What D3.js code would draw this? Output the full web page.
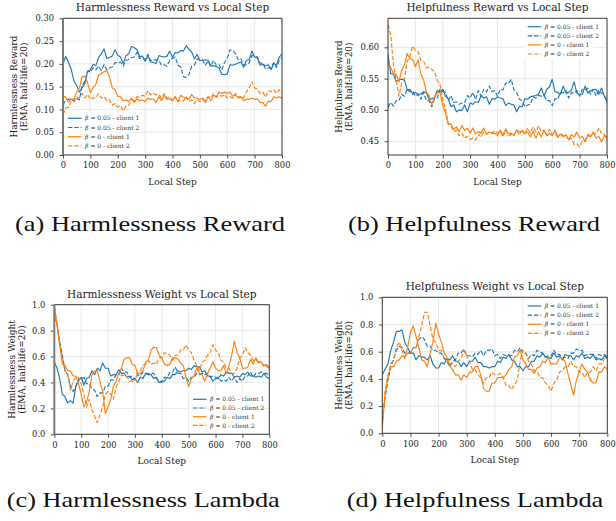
<!DOCTYPE html>
<html>
<head>
<meta charset="utf-8">
<script src="https://cdn.jsdelivr.net/npm/d3@7"></script>
<style>
  body { margin: 0; background: #fff; }
  svg { display: block; }
</style>
</head>
<body>
<svg id="fig" width="616" height="521"></svg>
<script>
// x positions of every sample (local step)
const steps = d3.range(0, 801, 10);
const xTicks = [0, 100, 200, 300, 400, 500, 600, 700, 800];

const seriesLabels = ["0.05 - client 1", "0.05 - client 2", "0 - client 1", "0 - client 2"];

// (a) harmlessness reward
const harmRewardB1 = [0.200,0.216,0.203,0.188,0.162,0.153,0.138,0.148,0.157,0.184,
  0.187,0.199,0.196,0.214,0.222,0.233,0.212,0.214,0.217,0.231,
  0.219,0.215,0.201,0.218,0.222,0.238,0.236,0.231,0.216,0.217,
  0.206,0.218,0.204,0.203,0.201,0.218,0.216,0.215,0.217,0.228,
  0.214,0.225,0.224,0.229,0.228,0.240,0.232,0.226,0.211,0.221,
  0.207,0.208,0.209,0.208,0.195,0.196,0.194,0.191,0.177,0.176,
  0.178,0.198,0.197,0.199,0.202,0.204,0.192,0.208,0.209,0.228,
  0.215,0.213,0.197,0.199,0.196,0.198,0.187,0.201,0.197,0.215,0.222];
const harmRewardB2 = [0.110,0.121,0.122,0.124,0.118,0.124,0.121,0.153,0.162,0.184,
  0.182,0.191,0.187,0.195,0.185,0.198,0.187,0.191,0.193,0.203,
  0.202,0.204,0.195,0.208,0.209,0.214,0.215,0.225,0.212,0.213,
  0.209,0.221,0.207,0.208,0.209,0.208,0.197,0.198,0.195,0.208,
  0.212,0.215,0.197,0.193,0.172,0.170,0.177,0.195,0.197,0.211,
  0.209,0.208,0.197,0.206,0.195,0.208,0.197,0.198,0.187,0.203,
  0.212,0.231,0.229,0.223,0.209,0.211,0.197,0.198,0.202,0.218,
  0.217,0.215,0.202,0.201,0.189,0.191,0.192,0.203,0.192,0.208,0.213];
const harmRewardO1 = [0.130,0.127,0.116,0.123,0.122,0.138,0.147,0.172,0.173,0.158,
  0.137,0.148,0.155,0.175,0.179,0.183,0.185,0.171,0.147,0.143,
  0.129,0.128,0.119,0.121,0.117,0.125,0.115,0.123,0.119,0.121,
  0.117,0.125,0.122,0.123,0.115,0.128,0.119,0.131,0.122,0.123,
  0.119,0.128,0.117,0.131,0.127,0.125,0.122,0.133,0.125,0.125,
  0.122,0.125,0.115,0.128,0.119,0.131,0.127,0.138,0.135,0.138,
  0.135,0.138,0.129,0.131,0.127,0.128,0.119,0.123,0.122,0.125,
  0.122,0.123,0.115,0.115,0.107,0.118,0.117,0.128,0.125,0.128,0.124];
const harmRewardO2 = [0.088,0.103,0.105,0.118,0.117,0.128,0.125,0.135,0.125,0.133,
  0.122,0.125,0.125,0.135,0.125,0.128,0.119,0.121,0.109,0.113,
  0.105,0.108,0.097,0.108,0.109,0.121,0.119,0.128,0.127,0.131,
  0.129,0.141,0.132,0.135,0.132,0.133,0.125,0.135,0.125,0.128,
  0.119,0.128,0.117,0.121,0.119,0.128,0.117,0.121,0.112,0.121,
  0.117,0.121,0.119,0.128,0.125,0.135,0.127,0.131,0.129,0.133,
  0.125,0.128,0.125,0.135,0.125,0.128,0.125,0.138,0.147,0.161,
  0.147,0.145,0.135,0.138,0.127,0.141,0.139,0.143,0.135,0.143,0.137];

// (b) helpfulness reward
const helpRewardB1 = [0.588,0.558,0.557,0.545,0.548,0.549,0.548,0.532,0.533,0.525,
  0.528,0.525,0.525,0.529,0.528,0.517,0.518,0.519,0.531,0.529,
  0.533,0.522,0.518,0.505,0.508,0.497,0.500,0.499,0.508,0.497,
  0.511,0.509,0.513,0.512,0.523,0.519,0.521,0.509,0.518,0.517,
  0.521,0.519,0.518,0.507,0.511,0.509,0.508,0.497,0.506,0.505,
  0.518,0.517,0.521,0.522,0.523,0.525,0.535,0.522,0.533,0.537,
  0.549,0.529,0.528,0.525,0.538,0.527,0.528,0.532,0.545,0.527,
  0.525,0.525,0.538,0.527,0.531,0.532,0.533,0.525,0.535,0.522,0.514];
const helpRewardB2 = [0.505,0.512,0.506,0.515,0.515,0.525,0.522,0.533,0.529,0.531,
  0.522,0.525,0.517,0.528,0.515,0.515,0.505,0.518,0.519,0.533,
  0.529,0.528,0.515,0.523,0.512,0.513,0.509,0.511,0.512,0.523,
  0.519,0.528,0.517,0.531,0.522,0.533,0.529,0.538,0.529,0.531,
  0.522,0.533,0.532,0.543,0.542,0.549,0.532,0.528,0.517,0.515,
  0.505,0.508,0.509,0.521,0.519,0.523,0.522,0.523,0.515,0.515,
  0.507,0.518,0.517,0.528,0.527,0.531,0.519,0.528,0.527,0.531,
  0.522,0.533,0.532,0.535,0.525,0.533,0.522,0.531,0.527,0.525,0.511];
const helpRewardO1 = [0.575,0.567,0.558,0.557,0.545,0.563,0.572,0.590,0.582,0.581,
  0.569,0.580,0.557,0.548,0.529,0.523,0.509,0.521,0.527,0.528,
  0.507,0.495,0.477,0.478,0.469,0.473,0.465,0.475,0.467,0.471,
  0.463,0.471,0.462,0.465,0.463,0.471,0.461,0.465,0.462,0.463,
  0.459,0.468,0.460,0.470,0.462,0.463,0.459,0.468,0.465,0.466,
  0.462,0.465,0.457,0.466,0.455,0.465,0.457,0.467,0.459,0.463,
  0.459,0.468,0.457,0.461,0.457,0.460,0.452,0.461,0.457,0.465,
  0.455,0.458,0.449,0.459,0.457,0.465,0.455,0.458,0.449,0.459,0.457];
const helpRewardO2 = [0.636,0.620,0.572,0.548,0.522,0.543,0.549,0.578,0.585,0.602,
  0.595,0.593,0.579,0.578,0.567,0.568,0.565,0.561,0.547,0.541,
  0.517,0.501,0.479,0.475,0.465,0.468,0.459,0.463,0.455,0.458,
  0.453,0.455,0.452,0.461,0.457,0.465,0.462,0.465,0.463,0.467,
  0.463,0.466,0.457,0.468,0.459,0.461,0.459,0.468,0.460,0.469,
  0.462,0.471,0.463,0.473,0.465,0.475,0.465,0.468,0.459,0.469,
  0.461,0.465,0.455,0.463,0.459,0.461,0.452,0.455,0.445,0.446,
  0.441,0.451,0.452,0.461,0.459,0.463,0.462,0.471,0.462,0.461,0.452];

// (c) harmlessness weight
const harmWeightB1 = [0.56,0.51,0.43,0.31,0.29,0.24,0.26,0.24,0.37,0.41,
  0.44,0.38,0.43,0.44,0.49,0.46,0.51,0.49,0.55,0.51,
  0.51,0.45,0.46,0.46,0.50,0.47,0.47,0.44,0.45,0.42,
  0.43,0.40,0.44,0.43,0.47,0.46,0.46,0.43,0.44,0.40,
  0.41,0.41,0.44,0.43,0.46,0.46,0.49,0.48,0.49,0.49,
  0.51,0.50,0.53,0.52,0.52,0.48,0.49,0.45,0.45,0.41,
  0.43,0.43,0.46,0.45,0.48,0.47,0.47,0.44,0.45,0.44,
  0.47,0.46,0.48,0.45,0.45,0.44,0.45,0.44,0.47,0.44,0.43];
const harmWeightB2 = [0.90,0.86,0.72,0.61,0.49,0.46,0.37,0.33,0.37,0.43,
  0.43,0.44,0.39,0.39,0.35,0.34,0.29,0.32,0.32,0.37,
  0.37,0.42,0.42,0.46,0.46,0.51,0.48,0.48,0.44,0.45,
  0.42,0.46,0.45,0.48,0.47,0.47,0.47,0.47,0.43,0.41,
  0.40,0.44,0.44,0.48,0.48,0.52,0.47,0.47,0.43,0.44,
  0.41,0.44,0.44,0.47,0.46,0.47,0.46,0.47,0.44,0.45,
  0.44,0.44,0.41,0.42,0.41,0.44,0.41,0.44,0.40,0.43,
  0.41,0.45,0.45,0.48,0.44,0.47,0.47,0.48,0.47,0.47,0.45];
const harmWeightO1 = [1.00,0.84,0.69,0.54,0.53,0.49,0.49,0.45,0.45,0.39,
  0.31,0.21,0.25,0.33,0.46,0.49,0.49,0.41,0.33,0.16,
  0.21,0.27,0.37,0.41,0.47,0.51,0.58,0.59,0.59,0.54,
  0.53,0.47,0.47,0.49,0.56,0.57,0.65,0.67,0.67,0.61,
  0.59,0.54,0.53,0.54,0.59,0.59,0.58,0.55,0.53,0.44,
  0.37,0.43,0.45,0.51,0.47,0.46,0.41,0.47,0.51,0.56,
  0.51,0.49,0.49,0.53,0.47,0.53,0.61,0.72,0.63,0.59,
  0.51,0.51,0.52,0.58,0.54,0.59,0.55,0.56,0.53,0.54,0.51];
const harmWeightO2 = [0.98,0.86,0.69,0.59,0.49,0.46,0.34,0.41,0.44,0.44,
  0.39,0.31,0.21,0.27,0.19,0.14,0.09,0.15,0.21,0.31,
  0.33,0.31,0.27,0.36,0.41,0.46,0.45,0.45,0.41,0.41,
  0.41,0.49,0.49,0.53,0.54,0.57,0.54,0.55,0.54,0.59,
  0.59,0.63,0.62,0.61,0.57,0.61,0.61,0.65,0.65,0.69,
  0.65,0.63,0.57,0.53,0.49,0.56,0.57,0.61,0.63,0.69,
  0.65,0.63,0.57,0.56,0.51,0.51,0.47,0.47,0.51,0.59,
  0.61,0.67,0.63,0.61,0.57,0.57,0.56,0.56,0.52,0.53,0.50];

// (d) helpfulness weight
const helpWeightB1 = [0.43,0.47,0.51,0.61,0.67,0.75,0.75,0.76,0.67,0.63,
  0.59,0.59,0.54,0.57,0.56,0.56,0.54,0.57,0.51,0.48,
  0.48,0.52,0.51,0.55,0.54,0.57,0.53,0.53,0.49,0.52,
  0.49,0.53,0.53,0.56,0.52,0.52,0.49,0.49,0.48,0.49,
  0.49,0.53,0.52,0.56,0.55,0.58,0.54,0.53,0.49,0.49,
  0.46,0.49,0.49,0.53,0.53,0.57,0.56,0.59,0.56,0.56,
  0.55,0.59,0.56,0.57,0.54,0.58,0.57,0.57,0.54,0.57,
  0.56,0.59,0.55,0.56,0.55,0.58,0.54,0.55,0.54,0.57,0.55];
const helpWeightB2 = [0.10,0.26,0.39,0.49,0.54,0.61,0.64,0.63,0.59,0.59,
  0.59,0.63,0.63,0.69,0.71,0.69,0.64,0.64,0.61,0.61,
  0.59,0.59,0.55,0.53,0.49,0.53,0.54,0.59,0.59,0.62,
  0.57,0.57,0.56,0.59,0.58,0.61,0.57,0.61,0.61,0.62,
  0.57,0.58,0.55,0.58,0.57,0.57,0.57,0.61,0.60,0.63,
  0.59,0.59,0.55,0.58,0.57,0.61,0.60,0.59,0.56,0.57,
  0.57,0.61,0.58,0.58,0.55,0.56,0.55,0.59,0.59,0.62,
  0.61,0.61,0.57,0.58,0.58,0.58,0.55,0.58,0.57,0.58,0.56];
const helpWeightO1 = [0.05,0.29,0.41,0.49,0.49,0.53,0.54,0.57,0.56,0.63,
  0.74,0.79,0.71,0.63,0.54,0.53,0.49,0.59,0.67,0.81,
  0.73,0.67,0.59,0.56,0.49,0.47,0.43,0.43,0.39,0.43,
  0.41,0.45,0.45,0.49,0.49,0.43,0.33,0.31,0.31,0.37,
  0.37,0.41,0.41,0.41,0.43,0.47,0.49,0.56,0.57,0.61,
  0.54,0.51,0.47,0.47,0.44,0.48,0.49,0.53,0.52,0.56,
  0.51,0.51,0.51,0.56,0.55,0.53,0.44,0.36,0.28,0.39,
  0.45,0.51,0.47,0.45,0.39,0.37,0.37,0.45,0.45,0.49,0.47];
const helpWeightO2 = [0.05,0.31,0.43,0.51,0.54,0.63,0.67,0.61,0.55,0.59,
  0.59,0.63,0.63,0.71,0.79,0.89,0.89,0.79,0.69,0.67,
  0.61,0.61,0.55,0.55,0.51,0.51,0.49,0.53,0.55,0.61,
  0.57,0.53,0.47,0.47,0.43,0.41,0.37,0.41,0.41,0.45,
  0.43,0.43,0.44,0.41,0.35,0.35,0.32,0.36,0.39,0.53,
  0.61,0.59,0.53,0.51,0.46,0.46,0.41,0.41,0.37,0.35,
  0.31,0.37,0.39,0.45,0.46,0.49,0.49,0.53,0.49,0.49,
  0.45,0.45,0.41,0.45,0.45,0.49,0.46,0.51,0.51,0.55,0.55];

const rewardTicksA = [0, 0.05, 0.10, 0.15, 0.20, 0.25, 0.30];
const rewardTicksB = [0.45, 0.50, 0.55, 0.60];
const weightTicks = [0, 0.2, 0.4, 0.6, 0.8, 1.0];

const BLUE = "#1f77b4", ORANGE = "#ff7f0e";
const FONT = "'DejaVu Serif', serif";
const CAPFONT = "'Liberation Serif', serif";

const svg = d3.select("#fig");
svg.append("rect").attr("width", 616).attr("height", 521).attr("fill", "#fff");

const panels = [
  {
    id: "a", title: "Harmlessness Reward vs Local Step", ylab: "Harmlessness Reward",
    x0: 63, x1: 282, y0: 18.3, y1: 155, yDomain: [0, 0.30], yTicks: rewardTicksA, yFmt: ".2f",
    series: [harmRewardB1, harmRewardB2, harmRewardO1, harmRewardO2],
    titleY: 10.5, ylabX: [13.5, 23.5], greySpine: true,
    legend: { x: 68, y: 118.3, dy: 9.2 },
    caption: "(a) Harmlessness Reward", capX: 150, capY: 230.7, capW: 270
  },
  {
    id: "b", title: "Helpfulness Reward vs Local Step", ylab: "Helpfulness Reward",
    x0: 388, x1: 607, y0: 18.3, y1: 155, yDomain: [0.4281, 0.6463], yTicks: rewardTicksB, yFmt: ".2f",
    series: [helpRewardB1, helpRewardB2, helpRewardO1, helpRewardO2],
    titleY: 10.5, ylabX: [338.5, 348.5], greySpine: false,
    legend: { x: 527.7, y: 26.7, dy: 9.1 },
    caption: "(b) Helpfulness Reward", capX: 474, capY: 230.7, capW: 252
  },
  {
    id: "c", title: "Harmlessness Weight vs Local Step", ylab: "Harmlessness Weight",
    x0: 54.3, x1: 269.3, y0: 304.7, y1: 434.3, yDomain: [0, 1], yTicks: weightTicks, yFmt: ".1f",
    series: [harmWeightB1, harmWeightB2, harmWeightO1, harmWeightO2],
    titleY: 297.7, ylabX: [11.5, 21.5], greySpine: true,
    legend: { x: 193, y: 399.3, dy: 8.7 },
    caption: "(c) Harmlessness Lambda", capX: 143.3, capY: 507.3, capW: 273
  },
  {
    id: "d", title: "Helpfulness Weight vs Local Step", ylab: "Helpfulness Weight",
    x0: 382.3, x1: 607.3, y0: 297.3, y1: 433.3, yDomain: [0, 1], yTicks: weightTicks, yFmt: ".1f",
    series: [helpWeightB1, helpWeightB2, helpWeightO1, helpWeightO2],
    titleY: 290, ylabX: [338.5, 348.5], greySpine: false,
    legend: { x: 527.7, y: 306, dy: 9.1 },
    caption: "(d) Helpfulness Lambda", capX: 475, capY: 507.3, capW: 256.7
  }
];

const styles = [
  { color: BLUE, dash: null },
  { color: BLUE, dash: "4.4,1.9" },
  { color: ORANGE, dash: null },
  { color: ORANGE, dash: "4.4,1.9" }
];

function drawPanel(p) {
  const x = d3.scaleLinear().domain([0, 800]).range([p.x0, p.x1]);
  const y = d3.scaleLinear().domain(p.yDomain).range([p.y1, p.y0]);
  const g = svg.append("g");

  // grid
  g.selectAll(".gx").data(xTicks).join("line")
    .attr("x1", d => x(d)).attr("x2", d => x(d))
    .attr("y1", p.y0).attr("y2", p.y1)
    .attr("stroke", "#e3e3e3").attr("stroke-width", 0.8);
  g.selectAll(".gy").data(p.yTicks).join("line")
    .attr("x1", p.x0).attr("x2", p.x1)
    .attr("y1", d => y(d)).attr("y2", d => y(d))
    .attr("stroke", "#e3e3e3").attr("stroke-width", 0.8);

  // data lines
  svg.append("clipPath").attr("id", "clip-" + p.id)
    .append("rect").attr("x", p.x0).attr("y", p.y0)
    .attr("width", p.x1 - p.x0).attr("height", p.y1 - p.y0);

  const line = d3.line().x((d, i) => x(steps[i])).y(d => y(d));
  const lines = g.append("g").attr("clip-path", `url(#clip-${p.id})`);
  p.series.forEach((s, i) => {
    lines.append("path")
      .datum(s)
      .attr("fill", "none")
      .attr("stroke", styles[i].color)
      .attr("stroke-width", 1.15)
      .attr("stroke-linejoin", "round")
      .attr("stroke-dasharray", styles[i].dash)
      .attr("d", line);
  });

  // axes
  const xa = g.append("g").attr("transform", `translate(0,${p.y1})`)
    .call(d3.axisBottom(x).tickValues(xTicks).tickSize(3.5).tickPadding(4).tickFormat(d3.format("d")));
  const ya = g.append("g").attr("transform", `translate(${p.x0},0)`)
    .call(d3.axisLeft(y).tickValues(p.yTicks).tickSize(3.5).tickPadding(5.5).tickFormat(d3.format(p.yFmt)));
  [xa, ya].forEach(a => {
    a.select(".domain").remove();
    a.attr("font-family", FONT).attr("font-size", 8.3);
    a.selectAll("text").attr("fill", "#222");
    a.selectAll("line").attr("stroke", "#222").attr("stroke-width", 0.8);
  });

  // spines
  const sp = [
    [p.x0, p.y1, p.x1, p.y1], [p.x1, p.y0, p.x1, p.y1], [p.x0, p.y0, p.x1, p.y0]
  ];
  sp.forEach(s => g.append("line")
    .attr("x1", s[0]).attr("y1", s[1]).attr("x2", s[2]).attr("y2", s[3])
    .attr("stroke", "#262626").attr("stroke-width", 0.9));
  g.append("line")
    .attr("x1", p.x0).attr("x2", p.x0).attr("y1", p.y0).attr("y2", p.y1)
    .attr("stroke", p.greySpine ? "#7a7a7a" : "#262626")
    .attr("stroke-width", p.greySpine ? 2 : 0.9);

  // title
  g.append("text")
    .attr("x", (p.x0 + p.x1) / 2).attr("y", p.titleY)
    .attr("text-anchor", "middle")
    .attr("font-family", FONT).attr("font-size", 10.5).attr("fill", "#222")
    .text(p.title);

  // axis labels
  g.append("text")
    .attr("x", (p.x0 + p.x1) / 2).attr("y", p.y1 + 30)
    .attr("text-anchor", "middle")
    .attr("font-family", FONT).attr("font-size", 9).attr("fill", "#222")
    .text("Local Step");

  const yc = (p.y0 + p.y1) / 2;
  [p.ylab, "(EMA, half-life=20)"].forEach((t, i) => {
    const cx = p.ylabX[i] + 3.2;
    g.append("text")
      .attr("transform", `translate(${cx},${yc}) rotate(-90)`)
      .attr("text-anchor", "middle")
      .attr("font-family", FONT).attr("font-size", 9).attr("fill", "#222")
      .text(t);
  });

  // legend
  const L = p.legend;
  g.append("rect")
    .attr("x", L.x - 4).attr("y", L.y - 5.5)
    .attr("width", 70).attr("height", L.dy * 3 + 11)
    .attr("fill", "#fff").attr("opacity", 0.8);
  seriesLabels.forEach((lab, i) => {
    const ly = L.y + i * L.dy;
    g.append("line")
      .attr("x1", L.x).attr("x2", L.x + 13.5)
      .attr("y1", ly).attr("y2", ly)
      .attr("stroke", styles[i].color).attr("stroke-width", 1.2)
      .attr("stroke-dasharray", styles[i].dash);
    const t = g.append("text")
      .attr("x", L.x + 17).attr("y", ly + 2.1)
      .attr("font-family", FONT).attr("font-size", 6).attr("fill", "#333");
    t.append("tspan").attr("font-style", "italic").text("β");
    t.append("tspan").text(" = " + lab);
  });

  // caption
  svg.append("text")
    .attr("x", p.capX).attr("y", p.capY)
    .attr("text-anchor", "middle")
    .attr("font-family", CAPFONT).attr("font-size", 21).attr("fill", "#111")
    .attr("textLength", p.capW).attr("lengthAdjust", "spacingAndGlyphs")
    .text(p.caption);
}

panels.forEach(drawPanel);
</script>
</body>
</html>
